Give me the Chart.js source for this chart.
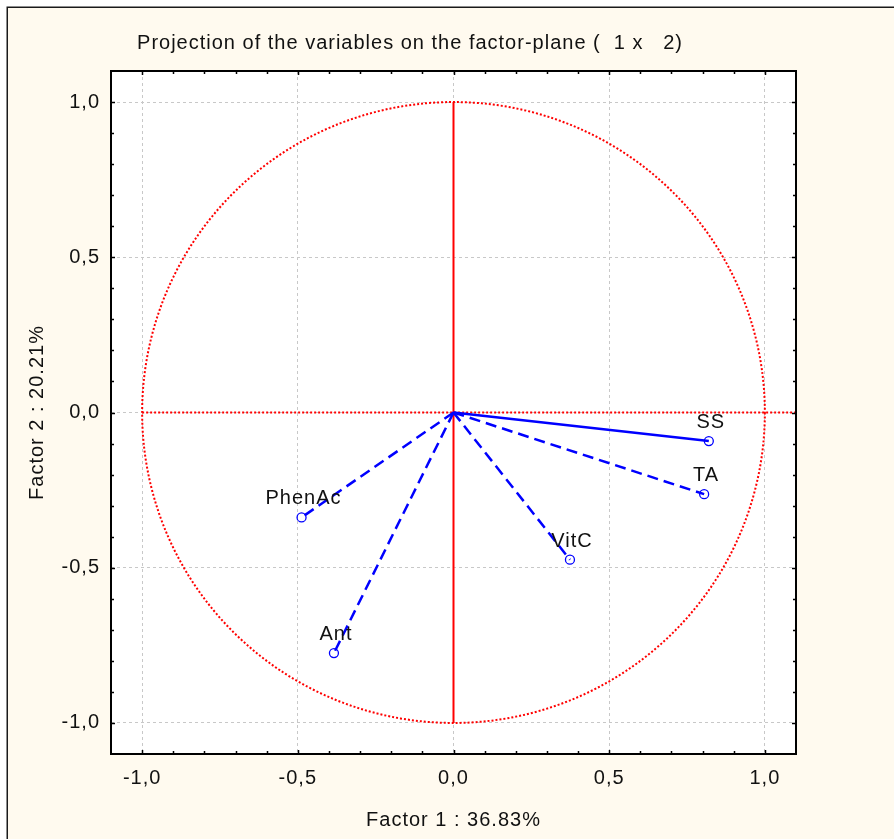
<!DOCTYPE html>
<html><head><meta charset="utf-8">
<script src="https://cdn.jsdelivr.net/npm/chart.js@4"></script>
<style>html,body{margin:0;padding:0;background:#fff}#wrap{width:894px;height:839px;position:relative}</style>
</head><body><div id="wrap"><canvas id="c" width="894" height="839"></canvas></div>
<script>
// ---- data ----
const variables = ['SS', 'TA', 'VitC', 'PhenAc', 'Ant'];
const factor1 = [0.82, 0.805, 0.374, -0.488, -0.384];
const factor2 = [-0.092, -0.263, -0.474, -0.338, -0.775];
const tickValues = [-1.0, -0.5, 0.0, 0.5, 1.0];
const tickLabels = ['-1,0', '-0,5', '0,0', '0,5', '1,0'];
const minorTickValues = [-1.0,-0.9,-0.8,-0.7,-0.6,-0.5,-0.4,-0.3,-0.2,-0.1,0,0.1,0.2,0.3,0.4,0.5,0.6,0.7,0.8,0.9,1.0];
const axisMin = -1.1, axisMax = 1.1;
const hRefLine = [{x: -1.0, y: 0}, {x: 1.1, y: 0}];
const vRefLine = [{x: 0, y: 1.0}, {x: 0, y: -1.0}];
const circleRadius = 1.0;
const titleText = 'Projection of the variables on the factor-plane (  1 x   2)';
const xTitle = 'Factor 1 : 36.83%';
const yTitle = 'Factor 2 : 20.21%';
const solidVariable = 'SS';

const FONT = "'Liberation Sans', Arial, sans-serif";
const SPACING = '1px';
const FS = 20;

const varDatasets = variables.map((name, i) => ({
  label: name,
  data: [{x: 0, y: 0}, {x: factor1[i], y: factor2[i]}],
  showLine: true,
  borderColor: '#0000ff',
  borderWidth: 2.5,
  borderDash: name === solidVariable ? [] : [11, 6],
  pointRadius: [0, 4.5],
  pointHoverRadius: [0, 4.5],
  pointBorderColor: '#0000ff',
  pointBackgroundColor: 'rgba(255,255,255,0)',
  pointBorderWidth: 1.3
}));

const refDatasets = [
  {label: 'h', data: hRefLine, showLine: true, borderColor: '#ff0000', borderWidth: 2, borderDash: [2, 2], pointRadius: 0},
  {label: 'v', data: vRefLine, showLine: true, borderColor: '#ff0000', borderWidth: 2, pointRadius: 0}
];

const decor = {
  id: 'decor',
  beforeInit(chart) { chart.ctx.letterSpacing = SPACING; },
  beforeUpdate(chart) { chart.ctx.letterSpacing = SPACING; },
  beforeDraw(chart) {
    const ctx = chart.ctx, ca = chart.chartArea;
    ctx.letterSpacing = SPACING;
    ctx.save();
    ctx.fillStyle = '#ffffff';
    ctx.fillRect(0, 0, chart.width, chart.height);
    ctx.fillStyle = '#fffaef';
    ctx.fillRect(7, 7, chart.width, chart.height);
    ctx.strokeStyle = '#1a1a1a';
    ctx.lineWidth = 1.5;
    ctx.beginPath();
    ctx.moveTo(7.25, chart.height); ctx.lineTo(7.25, 7.25); ctx.lineTo(chart.width, 7.25);
    ctx.stroke();
    ctx.fillStyle = '#ffffff';
    ctx.fillRect(ca.left, ca.top, ca.right - ca.left, ca.bottom - ca.top);
    ctx.restore();
  },
  beforeDatasetsDraw(chart) {
    const ctx = chart.ctx, xs = chart.scales.x, ys = chart.scales.y;
    const cx = xs.getPixelForValue(0), cy = ys.getPixelForValue(0);
    const rx = xs.getPixelForValue(circleRadius) - cx;
    const ry = cy - ys.getPixelForValue(circleRadius);
    ctx.save();
    ctx.strokeStyle = '#ff0000';
    ctx.lineWidth = 2;
    ctx.setLineDash([2, 2]);
    ctx.beginPath();
    ctx.ellipse(cx, cy, rx, ry, 0, 0, Math.PI * 2);
    ctx.stroke();
    ctx.restore();
  },
  afterDatasetsDraw(chart) {
    const ctx = chart.ctx, xs = chart.scales.x, ys = chart.scales.y, ca = chart.chartArea;
    ctx.save();
    // labels
    ctx.fillStyle = '#111';
    ctx.font = FS + 'px ' + FONT;
    ctx.letterSpacing = SPACING;
    ctx.textAlign = 'center';
    ctx.textBaseline = 'alphabetic';
    variables.forEach((name, i) => {
      const px = xs.getPixelForValue(factor1[i]);
      const py = ys.getPixelForValue(factor2[i]);
      ctx.fillText(name, px + 2, py - 13);
    });
    // frame
    ctx.strokeStyle = '#000';
    ctx.lineWidth = 2;
    ctx.strokeRect(ca.left, ca.top, ca.right - ca.left, ca.bottom - ca.top);
    // tick marks (inward)
    ctx.lineWidth = 1.5;
    ctx.beginPath();
    minorTickValues.forEach(v => {
      const major = tickValues.some(t => Math.abs(t - v) < 1e-9);
      const len = major ? 4 : 3;
      const px = Math.round(xs.getPixelForValue(v)) + 0.5;
      ctx.moveTo(px, ca.top); ctx.lineTo(px, ca.top + len);
      ctx.moveTo(px, ca.bottom); ctx.lineTo(px, ca.bottom - len);
      const py = Math.round(ys.getPixelForValue(v)) + 0.5;
      ctx.moveTo(ca.left, py); ctx.lineTo(ca.left + len, py);
      ctx.moveTo(ca.right, py); ctx.lineTo(ca.right - len, py);
    });
    ctx.stroke();
    ctx.restore();
  }
};

function axisOpts(isX) {
  return {
    type: 'linear',
    min: axisMin,
    max: axisMax,
    afterBuildTicks: s => { s.ticks = tickValues.map(v => ({value: v})); },
    afterFit: s => { if (isX) s.height = 85; else s.width = 87; },
    ticks: {
      callback: (v, i) => tickLabels[i],
      font: {family: FONT, size: FS},
      color: '#111',
      padding: isX ? 12 : 11,
      autoSkip: false,
      maxRotation: 0
    },
    grid: {color: '#c8c8c8', lineWidth: 1, drawTicks: false},
    border: {display: false, dash: [3, 3]},
    title: {
      display: true,
      text: isX ? xTitle : yTitle,
      font: {family: FONT, size: FS},
      color: '#111',
      padding: isX ? {top: 0, bottom: 7} : {top: 1, bottom: 0}
    }
  };
}

new Chart(document.getElementById('c'), {
  type: 'scatter',
  data: {datasets: [...varDatasets, ...refDatasets]},
  options: {
    responsive: false,
    animation: false,
    layout: {padding: {left: 24, right: 98, top: 0, bottom: 0}},
    plugins: {
      legend: {display: false},
      tooltip: {enabled: false},
      title: {
        display: true,
        text: titleText,
        font: {family: FONT, size: FS, weight: 'normal'},
        color: '#111',
        padding: {top: 31, bottom: 16}
      }
    },
    scales: {x: axisOpts(true), y: axisOpts(false)}
  },
  plugins: [decor]
});
</script>
</body></html>
